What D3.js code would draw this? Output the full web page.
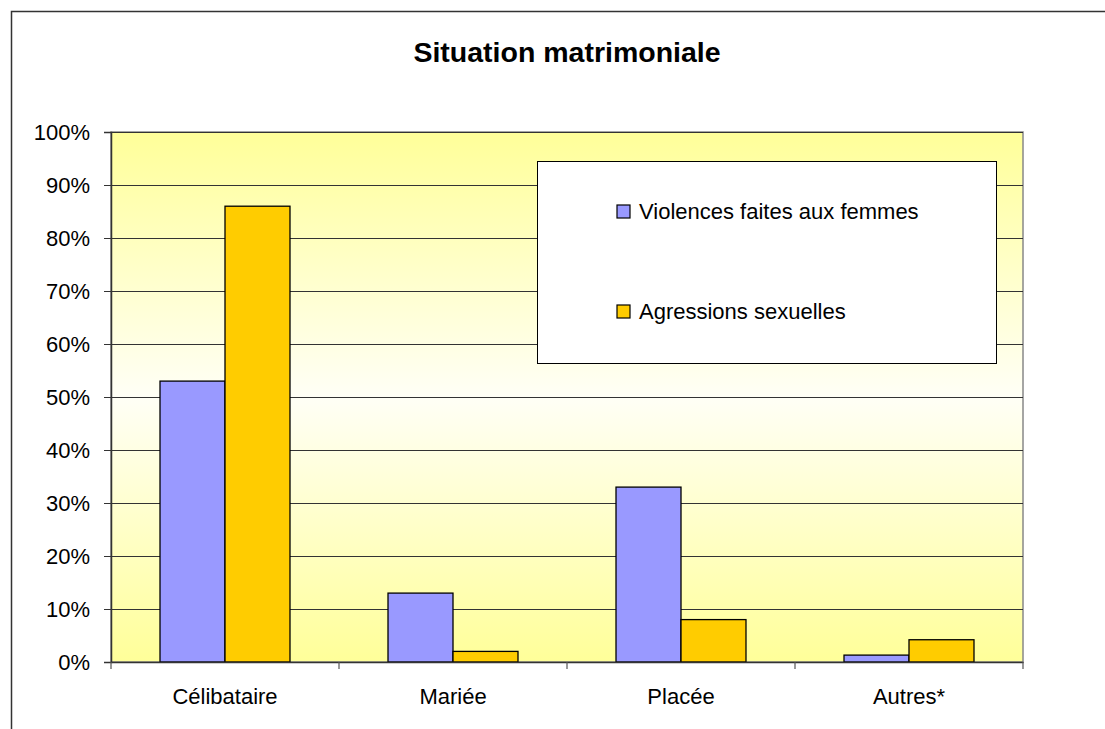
<!DOCTYPE html>
<html>
<head>
<meta charset="utf-8">
<script src="https://cdn.jsdelivr.net/npm/d3@7"></script>
<style>
  body { margin: 0; background: #fff; }
  svg text { font-family: "Liberation Sans", Arial, sans-serif; fill: #000; }
</style>
</head>
<body>
<div id="chart"></div>
<script>
// Data
var categories = ["Célibataire", "Mariée", "Placée", "Autres*"];
var series_names = ["Violences faites aux femmes", "Agressions sexuelles"];
var violences = [53, 13, 33, 1.3];
var agressions = [86, 2, 8, 4.2];
var y_ticks = [0, 10, 20, 30, 40, 50, 60, 70, 80, 90, 100];
var colours = ["#9999FF", "#FFCC00"];

var width = 1105, height = 729;
var plot = {left: 111, top: 132, right: 1023, bottom: 662};
var font_size = "22px";

var svg = d3.select("#chart").append("svg")
    .attr("width", width)
    .attr("height", height);

// Outer chart border (continues beyond the picture right and bottom)
svg.append("rect")
    .attr("x", 11.5).attr("y", 11.5)
    .attr("width", 1200).attr("height", 800)
    .attr("fill", "none")
    .attr("stroke", "#333")
    .attr("stroke-width", 1.5);

svg.append("text")
    .attr("x", 567).attr("y", 62)
    .attr("text-anchor", "middle")
    .style("font-size", "28.5px")
    .style("font-weight", "bold")
    .text("Situation matrimoniale");

// Plot area background gradient
var defs = svg.append("defs");
var grad = defs.append("linearGradient")
    .attr("id", "bg").attr("x1", 0).attr("y1", 0).attr("x2", 0).attr("y2", 1);
grad.append("stop").attr("offset", "0%").attr("stop-color", "#FFFF99");
grad.append("stop").attr("offset", "50%").attr("stop-color", "#FFFFF6");
grad.append("stop").attr("offset", "100%").attr("stop-color", "#FFFF99");

svg.append("rect")
    .attr("x", plot.left).attr("y", plot.top)
    .attr("width", plot.right - plot.left)
    .attr("height", plot.bottom - plot.top)
    .attr("fill", "url(#bg)")
    .attr("stroke", "#888")
    .attr("stroke-width", 1.5);

var x = d3.scaleBand()
    .domain(categories)
    .range([plot.left, plot.right]);
// Two bars per category, side by side, with space at both ends
var x_inner = d3.scaleBand()
    .domain([0, 1])
    .range([0, x.bandwidth()])
    .paddingInner(0)
    .paddingOuter(0.754);
var y = d3.scaleLinear()
    .domain([0, 100])
    .range([plot.bottom, plot.top]);

// Grid lines
svg.append("g")
    .selectAll("line")
    .data(y_ticks.slice(1))
    .enter().append("line")
    .attr("x1", plot.left).attr("x2", plot.right)
    .attr("y1", function(d) { return Math.round(y(d)) + 0.5; })
    .attr("y2", function(d) { return Math.round(y(d)) + 0.5; })
    .attr("stroke", "#333")
    .attr("stroke-width", 1.2);

// Bars
var rows = categories.map(function(c, i) {
    return {cat: c, values: [violences[i], agressions[i]]};
});
var group = svg.selectAll(".grp")
    .data(rows)
    .enter().append("g")
    .attr("class", "grp")
    .attr("transform", function(d) { return "translate(" + x(d.cat) + ",0)"; });
group.selectAll("rect")
    .data(function(d) { return d.values; })
    .enter().append("rect")
    .attr("x", function(d, i) { return x_inner(i); })
    .attr("width", x_inner.bandwidth())
    .attr("y", function(d) { return y(d); })
    .attr("height", function(d) { return y(0) - y(d); })
    .attr("fill", function(d, i) { return colours[i]; })
    .attr("stroke", "#000")
    .attr("stroke-width", 1.3);

// Y axis
var y_axis = d3.axisLeft(y)
    .tickValues(y_ticks)
    .tickSize(7)
    .tickPadding(14)
    .tickFormat(function(d) { return d + "%"; });
var yg = svg.append("g")
    .attr("transform", "translate(" + plot.left + ",0)")
    .call(y_axis);
yg.select(".domain").attr("stroke", "#333").attr("stroke-width", 1.5);
yg.selectAll(".tick line").attr("stroke", "#333");
yg.selectAll("text").style("font-size", font_size).attr("fill", "#000");

// X axis
var x_axis = d3.axisBottom(x)
    .tickSize(0)
    .tickPadding(26);
var xg = svg.append("g")
    .attr("transform", "translate(0," + plot.bottom + ")")
    .call(x_axis);
xg.select(".domain").attr("stroke", "#333").attr("stroke-width", 1.5);
xg.selectAll("text").style("font-size", font_size).attr("fill", "#000");
// Category separator ticks
xg.selectAll(".sep")
    .data(categories.concat(["end"]))
    .enter().append("line")
    .attr("class", "sep")
    .attr("x1", function(d, i) { return plot.left + i * x.bandwidth(); })
    .attr("x2", function(d, i) { return plot.left + i * x.bandwidth(); })
    .attr("y1", 0).attr("y2", 7)
    .attr("stroke", "#555")
    .attr("stroke-width", 1.2);

// Legend
var legend = svg.append("g");
legend.append("rect")
    .attr("x", 537.5).attr("y", 161.5)
    .attr("width", 459).attr("height", 202)
    .attr("fill", "#fff")
    .attr("stroke", "#000")
    .attr("stroke-width", 1);
var items = legend.selectAll(".item")
    .data(series_names)
    .enter().append("g")
    .attr("class", "item")
    .attr("transform", function(d, i) { return "translate(617," + (205 + i * 100) + ")"; });
items.append("rect")
    .attr("width", 13).attr("height", 13)
    .attr("fill", function(d, i) { return colours[i]; })
    .attr("stroke", "#000")
    .attr("stroke-width", 1.2);
items.append("text")
    .attr("x", 22).attr("y", 14)
    .style("font-size", font_size)
    .text(function(d) { return d; });
</script>
</body>
</html>
